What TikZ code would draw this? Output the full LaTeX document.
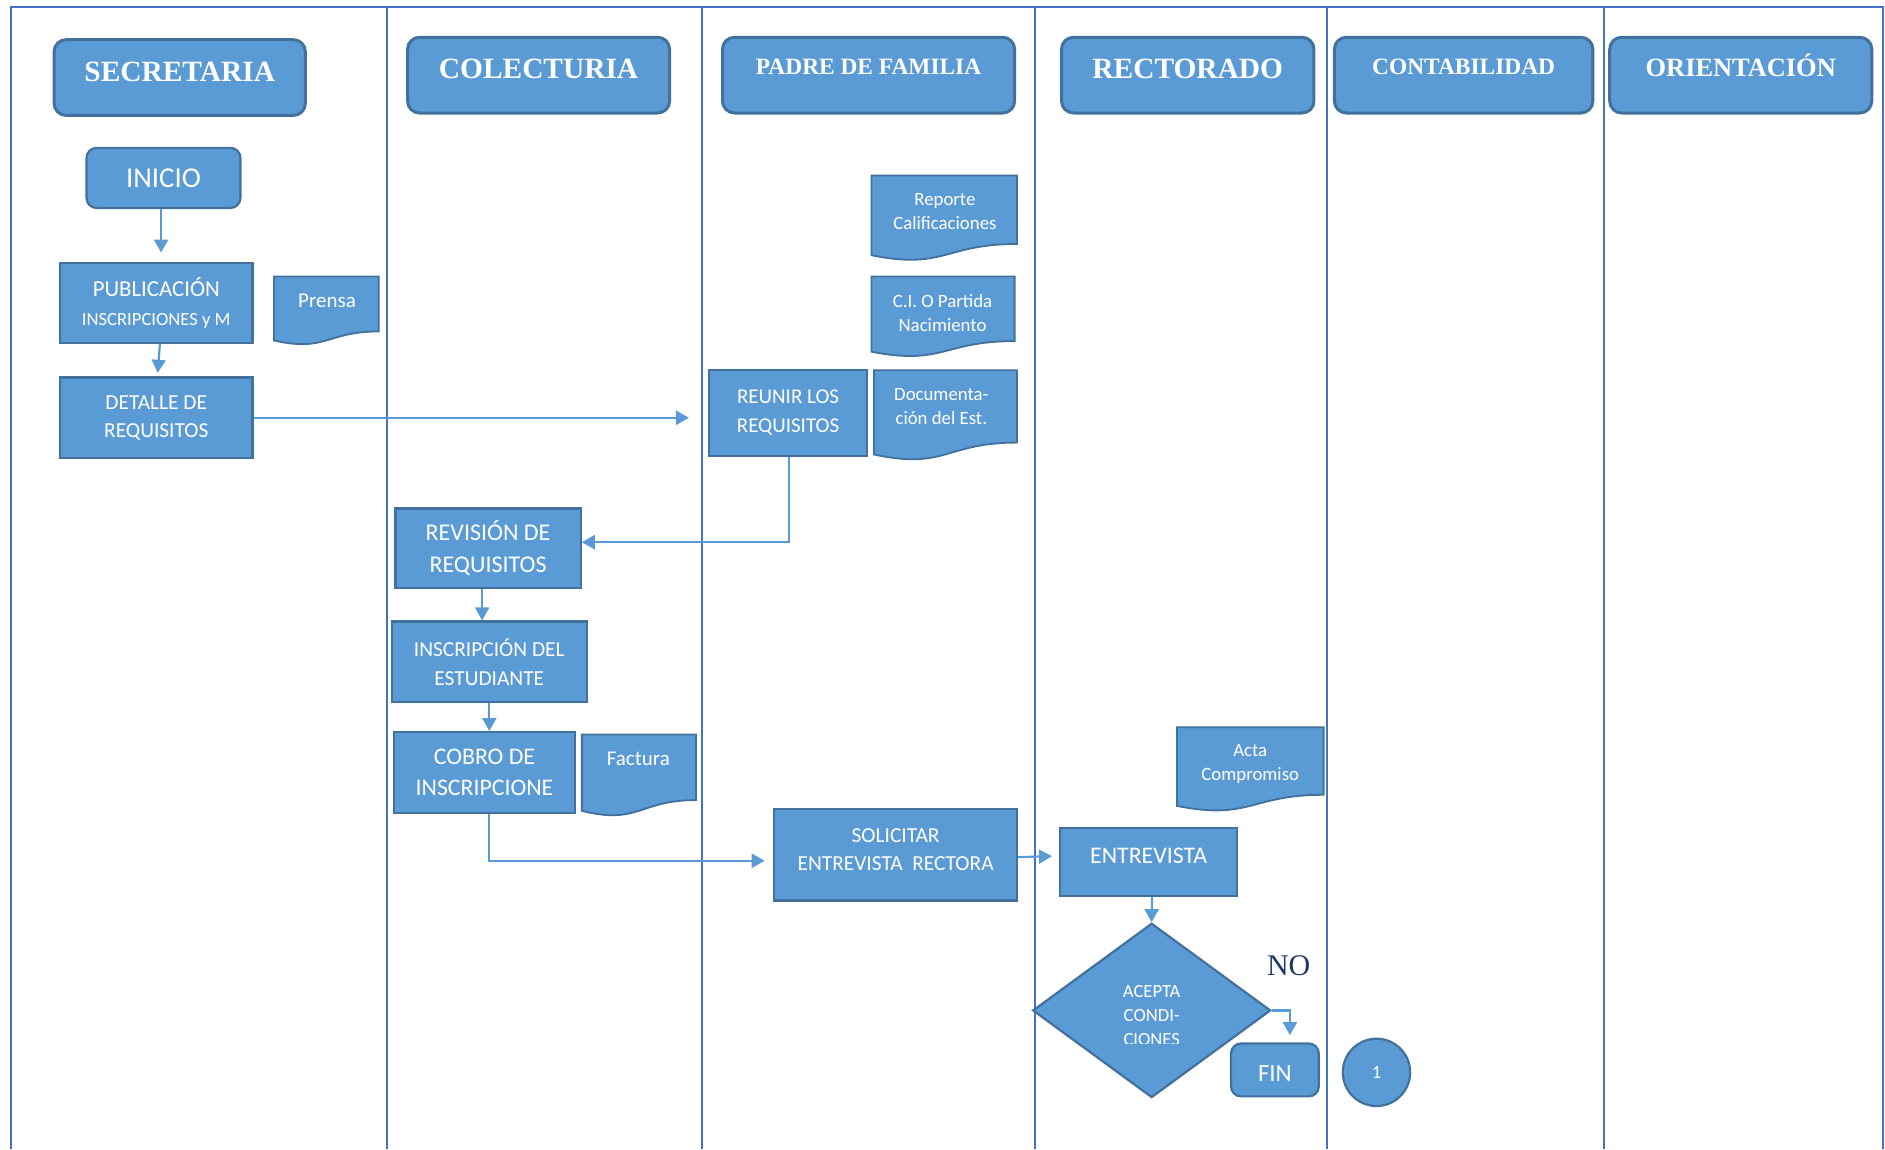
\documentclass[tikz,border=0pt]{standalone}
\usepackage{fontspec}
\setmainfont{Carlito}
\newfontfamily\tnr{Liberation Serif}
\usetikzlibrary{arrows.meta,shapes.geometric}

\definecolor{boxblue}{HTML}{5B9BD5}
\definecolor{boxedge}{HTML}{41719C}
\definecolor{laneblue}{HTML}{4472C4}
\definecolor{navyink}{HTML}{1F3864}

\newcommand\fsz[2]{\fontsize{#1}{#2}\selectfont}

% document symbol with a wavy lower edge: left, top, right, bottom
\newcommand\docshape[4]{%
  \filldraw[docstyle] (#1,#2) -- (#3,#2) -- (#3,{#2+0.802*(#4-#2)})
    .. controls ({0.5*(#1+#3)},{#2+0.802*(#4-#2)}) and ({0.5*(#1+#3)},{#2+1.1075*(#4-#2)})
    .. (#1,{#2+0.934*(#4-#2)}) -- cycle;}

\tikzset{
  sz/.style 2 args={minimum width=#1*0.6011pt, minimum height=#2*0.6011pt},
  lane/.style={draw=laneblue, line width=1.1pt},
  header/.style={rectangle, rounded corners=6pt, fill=boxblue, draw=boxedge,
    line width=1.5pt, text=white, inner sep=0pt},
  procbox/.style={rectangle, fill=boxblue, draw=boxedge, line width=1.1pt,
    text=white, inner sep=0pt, align=center},
  termbox/.style={procbox, rounded corners=5pt},
  docstyle/.style={fill=boxblue, draw=boxedge, line width=0.9pt},
  doctext/.style={text=white, inner sep=0pt, align=center, font=\fsz{9.4}{12}},
  arr/.style={draw=boxblue, line width=1.1pt, -{Triangle[length=6.5pt,width=7pt]}},
}

\begin{document}
\begin{tikzpicture}[x=0.6011pt, y=-0.6011pt]
\useasboundingbox (0,0) rectangle (1568,956);

% swim lanes
\draw[lane] (9,956) -- (9,6) -- (1566,6) -- (1566,956);
\foreach \lx in {322,584,861,1104,1334} \draw[lane] (\lx,6) -- (\lx,956);

% lane headers
\node[header, sz={209}{63}, font=\tnr\bfseries\fsz{14.7}{17}, text height=9.7pt, text depth=5.4pt]
  (hsec) at (149.5,64.5) {SECRETARIA};
\node[header, sz={218}{63}, font=\tnr\bfseries\fsz{14.7}{17}, text height=9.7pt, text depth=6.6pt]
  (hcol) at (448,62.5) {COLECTURIA};
\node[header, sz={243}{63}, font=\tnr\bfseries\fsz{11.7}{14}, text height=7.7pt, text depth=8.4pt]
  (hpad) at (722.5,62.5) {PADRE DE FAMILIA};
\node[header, sz={210}{63}, font=\tnr\bfseries\fsz{14.7}{17}, text height=9.7pt, text depth=6.6pt]
  (hrec) at (988,62.5) {RECTORADO};
\node[header, sz={215}{63}, font=\tnr\bfseries\fsz{11.7}{14}, text height=7.7pt, text depth=8.4pt]
  (hcon) at (1217.5,62.5) {CONTABILIDAD};
\node[header, sz={218}{63}, font=\tnr\bfseries\fsz{13.2}{16}, text height=8.7pt, text depth=7.2pt]
  (hori) at (1448,62.5) {ORIENTACIÓN};

% process steps
\node[termbox, sz={128}{50}, font=\fsz{14.4}{17}] (inicio) at (136,148) {INICIO};
\node[procbox, sz={160}{66}, font=\fsz{11.4}{14.4}] (pub) at (130,252)
  {PUBLICACIÓN\\{\fsz{9.3}{14.4}INSCRIPCIONES y M}};
\node[procbox, sz={160}{67}, font=\fsz{10.7}{13.8}] (detalle) at (130,347.5)
  {DETALLE DE\\REQUISITOS};
\node[procbox, sz={131}{71}, font=\fsz{10.5}{14.4}] (reunir) at (655.5,343.5)
  {REUNIR LOS\\REQUISITOS};
\node[procbox, sz={154}{66}, font=\fsz{12}{16.2}] (revision) at (406,456)
  {REVISIÓN DE\\REQUISITOS};
\node[procbox, sz={162}{67}, font=\fsz{10.7}{14.4}] (inscrip) at (407,550.5)
  {INSCRIPCIÓN DEL\\ESTUDIANTE};
\node[procbox, sz={150}{67}, font=\fsz{11.9}{15.6}] (cobro) at (403,642.5)
  {COBRO DE\\INSCRIPCIONE};
\node[procbox, sz={202}{76}, font=\fsz{10.7}{13.8}, text depth=5pt] (solicitar) at (745,711)
  {SOLICITAR\\ENTREVISTA~~RECTORA};
\node[procbox, sz={147}{56}, font=\fsz{11.9}{14}, text height=7.7pt, text depth=6pt]
  (entrevista) at (955.5,717) {ENTREVISTA};
\node[diamond, fill=boxblue, draw=boxedge, line width=1.1pt, inner sep=0pt, sz={198}{145}]
  (cond) at (958,840.5) {};
\begin{scope}
  \clip (850,760) rectangle (1070,868);
  \node[text=white, inner sep=0pt, align=center, font=\fsz{9.3}{12}] (condtxt) at (958,845)
    {ACEPTA\\CONDI-\\CIONES};
\end{scope}
\node[termbox, sz={73}{44}, font=\fsz{12.4}{15}, text height=11.6pt, text depth=0pt]
  (fin) at (1060.5,890) {FIN};
\node[circle, fill=boxblue, draw=boxedge, line width=1.1pt, text=white, inner sep=0pt,
  sz={56}{56}, font=\fsz{9.3}{11}] (one) at (1145,892) {1};
\node[text=navyink, inner sep=0pt, font=\tnr\fsz{15}{18}] (no) at (1072,803) {NO};

% documents
\docshape{228}{230}{315}{287}
\node[doctext, font=\fsz{10.5}{13}] (prensa) at (272,250) {Prensa};
\docshape{725}{146}{846}{217}
\node[doctext] (reporte) at (786,176) {Reporte\\Calificaciones};
\docshape{725}{230}{844}{297}
\node[doctext] (cipart) at (784,260) {C.I. O Partida\\Nacimiento};
\docshape{727}{308}{846}{383}
\node[doctext] (docest) at (783,338) {Documenta-\\ción del Est.};
\docshape{484}{611}{579}{679}
\node[doctext, font=\fsz{10.5}{13}] (factura) at (531,631) {Factura};
\docshape{979}{605}{1101}{675}
\node[doctext] (acta) at (1040,635.5) {Acta\\Compromiso};

% connectors
\draw[arr, shorten >=4.8pt] ([xshift=-1.2pt]inicio.south) -- ([xshift=-1.2pt]inicio.south |- pub.north);
\draw[arr, shorten >=1.8pt] ([xshift=1.8pt]pub.south) -- ([xshift=0.6pt]detalle.north);
\draw[arr, shorten >=9.6pt] (detalle.east) -- (detalle.east -| reunir.west);
\draw[arr] ([xshift=0.6pt]reunir.south) |- ([yshift=3pt]revision.east);
\draw[arr] ([xshift=-3pt]revision.south) -- ([xshift=-3pt]revision.south |- inscrip.north);
\draw[arr] (inscrip.south) -- (inscrip.south |- cobro.north);
\draw[arr, shorten >=4.2pt] ([xshift=2.4pt]cobro.south) |- ([yshift=-3pt]solicitar.west);
\draw[arr, shorten >=3.6pt] ([yshift=-1.2pt]solicitar.east) -- ([yshift=3pt]entrevista.west);
\draw[arr] (entrevista.south -| cond.north) -- (cond.north);
\draw[arr, shorten >=3.6pt] (cond.east) -| ([xshift=7.5pt]fin.north);
\end{tikzpicture}
\end{document}
